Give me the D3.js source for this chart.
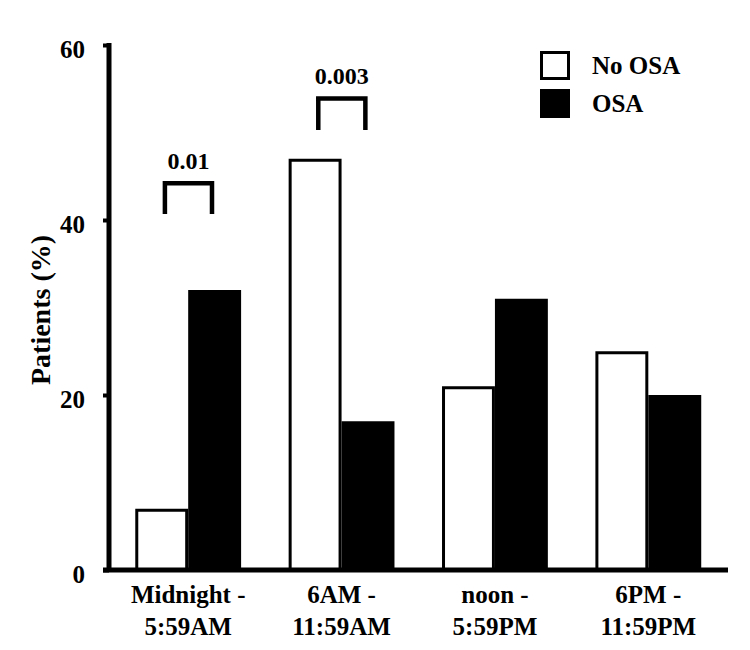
<!DOCTYPE html>
<html>
<head>
<meta charset="utf-8">
<script src="https://cdn.jsdelivr.net/npm/d3@7"></script>
<style>
  html, body { margin: 0; padding: 0; background: #fff; }
  text { font-family: "Liberation Serif", "Times New Roman", serif; font-weight: bold; fill: #000; }
</style>
</head>
<body>
<svg id="chart" width="750" height="650"></svg>
<script>
// ---- data ----
const categories = [["Midnight -", "5:59AM"], ["6AM -", "11:59AM"], ["noon -", "5:59PM"], ["6PM -", "11:59PM"]];
const seriesNames = ["No OSA", "OSA"];
const noOsaValues = [7, 47, 21, 25];
const osaValues = [32, 17, 31, 20];
const yTickValues = [0, 20, 40, 60];
const bracketCategories = [0, 1];
const bracketLabels = ["0.01", "0.003"];
const bracketLow = [40.7, 50.3];
const bracketHigh = [44.2, 53.9];

// ---- layout ----
const svg = d3.select("#chart");
const catKeys = categories.map((c, i) => i);
const x = d3.scaleBand().domain(catKeys).range([111.5, 725]).paddingInner(0.31).paddingOuter(0.155);
const xs = d3.scaleBand().domain(seriesNames).range([0, x.bandwidth()]);
const y = d3.scaleLinear().domain([0, 60]).range([570, 45]);
const fills = {"No OSA": "#fff", "OSA": "#000"};
const values = {"No OSA": noOsaValues, "OSA": osaValues};

// bars
const g = svg.append("g");
seriesNames.forEach(s => {
  g.selectAll(null).data(values[s]).enter().append("rect")
    .attr("x", (d, i) => x(i) + xs(s) + (s === "No OSA" ? 1.5 : 0))
    .attr("y", d => y(d) + (s === "No OSA" ? 1.5 : 0))
    .attr("width", xs.bandwidth() - (s === "No OSA" ? 3 : 0))
    .attr("height", d => y(0) - y(d) - (s === "No OSA" ? 1.5 : 0))
    .attr("fill", fills[s])
    .attr("stroke", "#000")
    .attr("stroke-width", s === "No OSA" ? 3 : 0);
});

// y axis
const yAxis = d3.axisLeft(y).tickValues(yTickValues).tickSize(6).tickPadding(18).tickSizeOuter(0);
const ya = svg.append("g").attr("transform", "translate(109,0)").call(yAxis);
ya.select(".domain").remove();
ya.selectAll(".tick line").attr("stroke", "#000").attr("stroke-width", 4);
ya.selectAll(".tick text").attr("font-size", 25).attr("dy", "0.5em")
  .style("font-family", "'Liberation Serif', serif").style("font-weight", "bold").attr("fill", "#000");
svg.append("line").attr("x1", 109).attr("x2", 109).attr("y1", y(0) + 2).attr("y2", y(60) - 2)
  .attr("stroke", "#000").attr("stroke-width", 5);

// x axis line
svg.append("line").attr("x1", 103).attr("x2", 728).attr("y1", y(0)).attr("y2", y(0))
  .attr("stroke", "#000").attr("stroke-width", 5);

// x labels
const xl = svg.append("g");
categories.forEach((c, i) => {
  const t = xl.append("text").attr("x", x(i) + x.bandwidth() / 2).attr("y", 603)
    .attr("text-anchor", "middle").attr("font-size", 25);
  t.append("tspan").attr("x", x(i) + x.bandwidth() / 2).text(c[0]);
  t.append("tspan").attr("x", x(i) + x.bandwidth() / 2).attr("dy", 32).text(c[1]);
});

// y label
svg.append("text").attr("transform", "translate(50,310) rotate(-90)")
  .attr("text-anchor", "middle").attr("font-size", 28).text("Patients (%)");

// brackets
bracketCategories.forEach((c, i) => {
  const x1 = x(c) + x.bandwidth() * 0.28;
  const x2 = x(c) + x.bandwidth() * 0.725;
  svg.append("path")
    .attr("d", `M${x1},${y(bracketLow[i])}V${y(bracketHigh[i])}H${x2}V${y(bracketLow[i])}`)
    .attr("fill", "none").attr("stroke", "#000").attr("stroke-width", 4.5);
  svg.append("text").attr("x", (x1 + x2) / 2).attr("y", y(bracketHigh[i]) - 14)
    .attr("text-anchor", "middle").attr("font-size", 24).text(bracketLabels[i]);
});

// legend
const leg = svg.append("g").attr("transform", "translate(540,51)");
seriesNames.forEach((s, i) => {
  const row = leg.append("g").attr("transform", `translate(0,${i * 38})`);
  row.append("rect").attr("x", 1.5).attr("y", 1.5).attr("width", 27).attr("height", 26)
    .attr("fill", fills[s]).attr("stroke", "#000").attr("stroke-width", 3);
  row.append("text").attr("x", 52).attr("y", 23).attr("font-size", 25).text(s);
});
</script>
</body>
</html>
